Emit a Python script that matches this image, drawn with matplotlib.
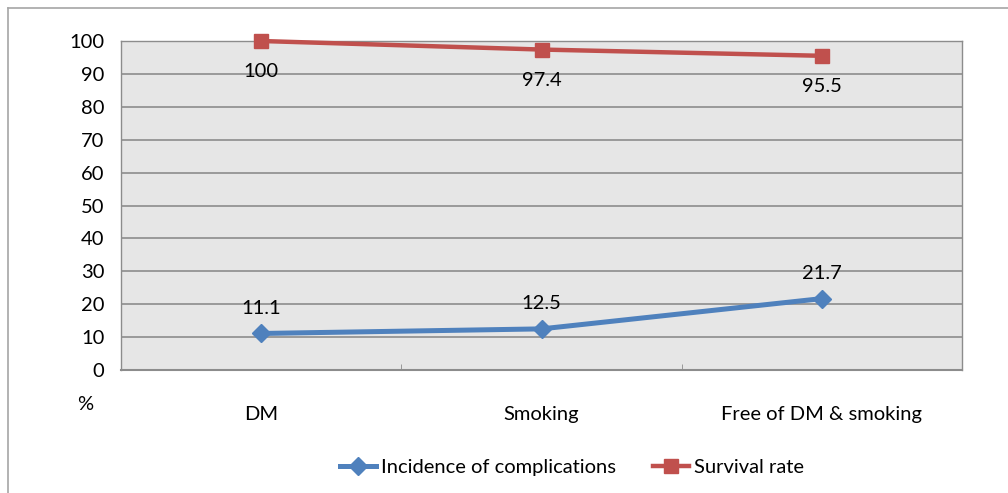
import numpy as np
import matplotlib.pyplot as plt
from matplotlib.lines import Line2D

plt.rcParams['font.family'] = ['Lato', 'DejaVu Sans']

# Data
categories = ['DM', 'Smoking', 'Free of DM & smoking']
complications = [11.1, 12.5, 21.7]
survival = [100, 97.4, 95.5]

fs = 14.5

fig = plt.figure(figsize=(10.08, 4.93), dpi=100)
ax = fig.add_axes([121 / 1008, 1 - 370 / 493, 841 / 1008, 329 / 493])

ax.set_facecolor('#e6e6e6')
x = np.arange(len(categories))

ax.plot(x, complications, color='#4f81bd', lw=3.6, marker='D', ms=9,
        label='Incidence of complications', zorder=3, clip_on=False)
ax.plot(x, survival, color='#c0504d', lw=3.2, marker='s', ms=10,
        label='Survival rate', zorder=3, clip_on=False)

# Data labels
for xi, v in zip(x, complications):
    ax.annotate(f'{v:g}', (xi, v), xytext=(0, 18), textcoords='offset points',
                ha='center', va='center', fontsize=fs, zorder=4)
for xi, v in zip(x, survival):
    ax.annotate(f'{v:g}', (xi, v), xytext=(0, -22), textcoords='offset points',
                ha='center', va='center', fontsize=fs, zorder=4)

ax.set_xlim(-0.5, 2.5)
ax.set_ylim(0, 100)
ax.set_yticks(np.arange(0, 101, 10))
ax.tick_params(axis='y', length=0, labelsize=fs, pad=12)
ax.set_xticks(x)
ax.set_xticklabels(categories)
ax.tick_params(axis='x', length=0, labelsize=fs, pad=26)
ax.set_xticks([0.5, 1.5], minor=True)
ax.tick_params(axis='x', which='minor', direction='in', length=4, color='#8c8c8c')

ax.grid(axis='y', color='#8c8c8c', lw=1.2)
ax.set_axisbelow(True)
for s in ['top', 'right', 'left']:
    ax.spines[s].set_color('#8c8c8c')
    ax.spines[s].set_linewidth(1.0)
ax.spines['bottom'].set_color('#8c8c8c')
ax.spines['bottom'].set_linewidth(1.5)

fig.text(85 / 1008, 1 - 404 / 493, '%', ha='center', va='center', fontsize=fs)

ax.legend(loc='center', bbox_to_anchor=(572 / 1008, 1 - 467 / 493),
          bbox_transform=fig.transFigure, ncol=2, frameon=False,
          fontsize=fs, handlelength=1.8, handletextpad=0.25, columnspacing=1.8)

# Outer chart border (left and top visible)
fig.add_artist(Line2D([8 / 1008, 8 / 1008], [0, 1 - 8 / 493], transform=fig.transFigure,
                      color='#a6a6a6', lw=1.2))
fig.add_artist(Line2D([8 / 1008, 1], [1 - 8 / 493, 1 - 8 / 493], transform=fig.transFigure,
                      color='#a6a6a6', lw=1.2))

fig.savefig('out.png', dpi=100)
